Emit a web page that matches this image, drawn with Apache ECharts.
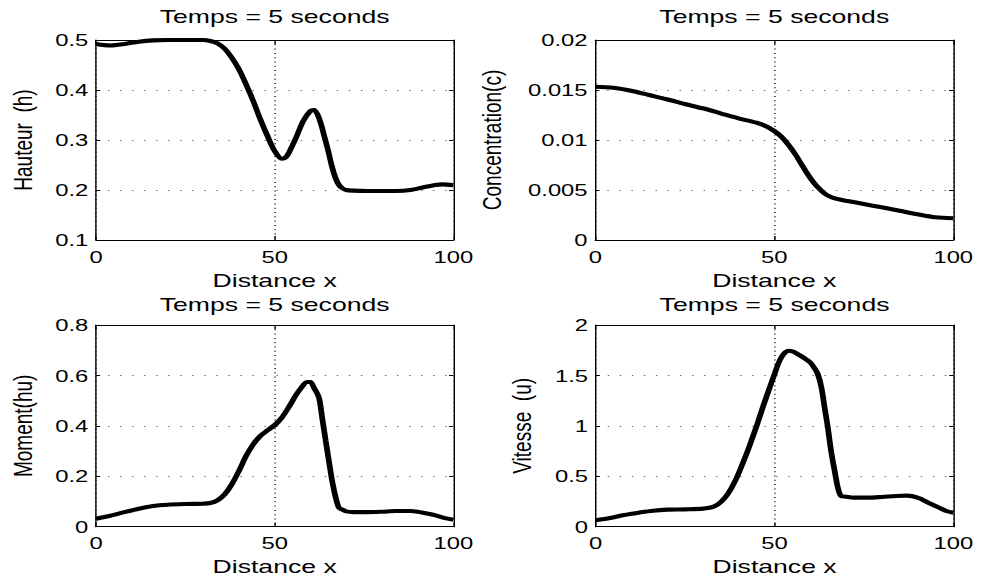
<!DOCTYPE html>
<html>
<head>
<meta charset="utf-8">
<script src="https://cdn.jsdelivr.net/npm/echarts@6/dist/echarts.min.js"></script>
<style>
html,body{margin:0;padding:0;background:#fff;overflow:hidden;}
#wrap{width:981px;height:580px;overflow:hidden;}
#chart{width:700.714px;height:580px;transform:scaleX(1.4);transform-origin:0 0;}
</style>
</head>
<body>
<div id="wrap"><div id="chart"></div></div>
<script>
// ---- Data ----
const titleText = 'Temps = 5 seconds';
const xName = 'Distance x';
const yNames = ['Hauteur  (h)', 'Concentration(c)', 'Moment(hu)', 'Vitesse  (u)'];

const hX = [0,4,8,12,16,20,25,30,32,34,36,38,40,42,44,46,48,50,52,53,54,56,58,60,61,62,63,64,65,66,67,68,69,70,72,76,80,84,88,92,95,97,100];
const hY = [0.492,0.489,0.492,0.4967,0.4993,0.5,0.5,0.5,0.498,0.4933,0.4827,0.4647,0.4413,0.4113,0.378,0.3413,0.308,0.278,0.2627,0.2647,0.2747,0.3047,0.338,0.358,0.36,0.3513,0.3313,0.3047,0.278,0.248,0.2247,0.21,0.2033,0.2,0.1987,0.198,0.198,0.198,0.2,0.206,0.21,0.2113,0.2093];

const cX = [0,5,10,15,20,25,30,35,40,45,48,50,52,54,56,58,60,62,64,66,68,70,75,80,85,90,95,100];
const cY = [0.01533,0.01523,0.01493,0.0145,0.01407,0.0136,0.01317,0.01267,0.01217,0.01173,0.01133,0.0109,0.01033,0.0095,0.0085,0.00733,0.00623,0.00533,0.00467,0.00427,0.00407,0.00393,0.0036,0.00327,0.00293,0.00257,0.00227,0.00217];

const mX = [0,4,8,12,16,20,25,30,32,34,36,38,40,42,44,46,48,50,52,54,56,58,59,60,61,62.4,63.3,64.3,65.2,66.1,67.1,68,69,70,72,76,80,84,88,90,92,95,98,100];
const mY = [0.0317,0.0437,0.058,0.0714,0.082,0.0873,0.09,0.0913,0.0939,0.1045,0.128,0.168,0.221,0.28,0.3267,0.36,0.382,0.403,0.4325,0.475,0.5225,0.561,0.574,0.574,0.5516,0.512,0.4325,0.34,0.26,0.181,0.115,0.075,0.0675,0.0608,0.058,0.058,0.0595,0.062,0.062,0.0595,0.054,0.045,0.033,0.028];

const uX = [0,4,8,12,16,20,25,30,33,35,37,39,41,43,45,47,49,50,51,52,53,54,55,56,58,60,61,62.1,63.1,64,64.9,65.8,66.8,67.7,68.6,70,72,76,80,84,87,90,93,96,98,100];
const uY = [0.063,0.086,0.116,0.139,0.159,0.169,0.172,0.179,0.199,0.245,0.328,0.454,0.619,0.801,1.0,1.215,1.414,1.513,1.613,1.685,1.728,1.745,1.738,1.722,1.679,1.629,1.58,1.513,1.38,1.18,0.983,0.752,0.553,0.387,0.305,0.298,0.288,0.288,0.295,0.305,0.308,0.288,0.238,0.189,0.156,0.139];

const xRange = [0, 100, 50];
const yRanges = [[0.1, 0.5, 0.1], [0, 0.02, 0.005], [0, 0.8, 0.2], [0, 2, 0.5]];

// ---- Layout (unscaled coordinates; the drawing is stretched 1.4x horizontally) ----
const FONT = 'Liberation Sans, Arial, Helvetica, sans-serif';
const grids = [
  {left: 68.57, top: 40, width: 255.2, height: 200},
  {left: 425.2, top: 40, width: 255.7, height: 200},
  {left: 68.57, top: 325, width: 255.2, height: 201.7},
  {left: 425.5, top: 325, width: 255.5, height: 201.7}
];
const titleTops = [7, 7, 294.5, 294.5];
const yNameGaps = [42.8, 64.3, 42.8, 43.5];

const pairs = [[hX, hY], [cX, cY], [mX, mY], [uX, uY]];

const title = [], xAxis = [], yAxis = [], series = [];
grids.forEach((g, i) => {
  title.push({
    text: titleText,
    left: g.left + g.width / 2,
    top: titleTops[i],
    textAlign: 'center',
    textVerticalAlign: 'top',
    padding: 0,
    textStyle: {fontSize: 19, fontWeight: 'normal', color: '#000', fontFamily: FONT}
  });
  const axLine = {show: true, onZero: false, lineStyle: {color: '#000', width: 1}};
  xAxis.push({
    type: 'value', gridIndex: i, position: 'bottom',
    min: xRange[0], max: xRange[1], interval: xRange[2],
    name: xName, nameLocation: 'middle', nameGap: 30.5,
    nameTextStyle: {fontSize: 19, color: '#000', fontFamily: FONT},
    axisLine: axLine,
    axisTick: {show: true, inside: true, length: 4, lineStyle: {color: '#000'}},
    axisLabel: {fontSize: 17, color: '#000', margin: 8, fontFamily: FONT},
    splitLine: {show: true, lineStyle: {color: '#000', width: 1, type: [1, 3.3]}}
  });
  xAxis.push({
    type: 'value', gridIndex: i, position: 'top',
    min: xRange[0], max: xRange[1], interval: xRange[2],
    axisLine: axLine,
    axisTick: {show: true, inside: true, length: 4, lineStyle: {color: '#000'}},
    axisLabel: {show: false},
    splitLine: {show: false}
  });
  const yr = yRanges[i];
  yAxis.push({
    type: 'value', gridIndex: i, position: 'left',
    min: yr[0], max: yr[1], interval: yr[2],
    name: yNames[i], nameLocation: 'middle', nameGap: yNameGaps[i],
    nameTextStyle: {fontSize: 19, color: '#000', fontFamily: FONT},
    axisLine: axLine,
    axisTick: {show: true, inside: true, length: 3, lineStyle: {color: '#000'}},
    axisLabel: {fontSize: 17, color: '#000', margin: 5.5, fontFamily: FONT},
    splitLine: {show: true, lineStyle: {color: '#666', width: 1, type: [1, 7.6]}}
  });
  yAxis.push({
    type: 'value', gridIndex: i, position: 'right',
    min: yr[0], max: yr[1], interval: yr[2],
    axisLine: axLine,
    axisTick: {show: true, inside: true, length: 3, lineStyle: {color: '#000'}},
    axisLabel: {show: false},
    splitLine: {show: false}
  });
  const [xs, ys] = pairs[i];
  series.push({
    type: 'line',
    xAxisIndex: 2 * i, yAxisIndex: 2 * i,
    data: xs.map((x, k) => [x, ys[k]]),
    showSymbol: false, symbol: 'none',
    smooth: 0.3,
    lineStyle: {color: '#000', width: 4.1},
    clip: false,
    z: 5
  });
});

const chart = echarts.init(document.getElementById('chart'), null, {renderer: 'svg', width: 700.714, height: 580});
chart.setOption({
  animation: false,
  backgroundColor: '#fff',
  textStyle: {fontFamily: FONT},
  title, grid: grids, xAxis, yAxis, series
});
</script>
</body>
</html>
